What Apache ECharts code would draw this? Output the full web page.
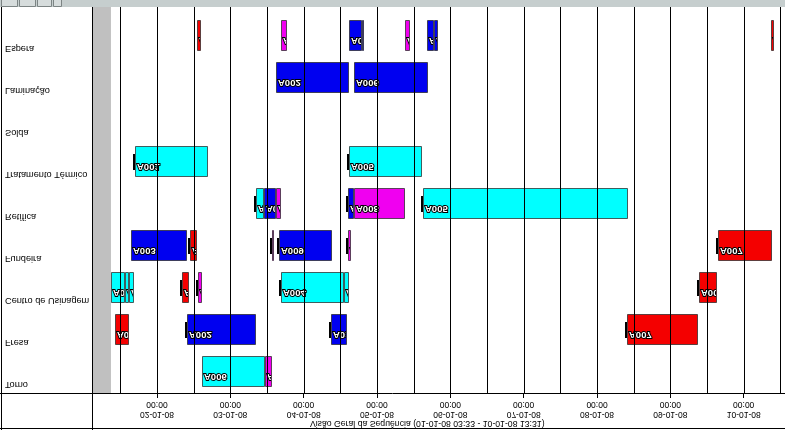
<!DOCTYPE html>
<html><head><meta charset="utf-8">
<script src="https://cdn.jsdelivr.net/npm/echarts@6/dist/echarts.min.js"></script>
<style>html,body{margin:0;padding:0;background:#fff}#chart{width:785px;height:430px;transform:scaleY(-1);}</style>
</head><body><div id="chart"></div>
<script>
const categories = ['Espera','Laminação','Solda','Tratamento Térmico','Retífica','Fundeira','Centro de Usinagem','Fresa','Torno'];
const axisStart = '2008-01-01 02:44';
const axisEnd = '2008-01-10 13:31';
const blockedEnd = '2008-01-01 08:56';
const dayTicks = ['2008-01-02 00:00','2008-01-03 00:00','2008-01-04 00:00','2008-01-05 00:00','2008-01-06 00:00','2008-01-07 00:00','2008-01-08 00:00','2008-01-09 00:00','2008-01-10 00:00'];
const gridTimes = ['2008-01-01 12:00','2008-01-02 00:00','2008-01-02 12:00','2008-01-03 00:00','2008-01-03 12:00','2008-01-04 00:00','2008-01-04 12:00','2008-01-05 00:00','2008-01-05 12:00','2008-01-06 00:00','2008-01-06 12:00','2008-01-07 00:00','2008-01-07 12:00','2008-01-08 00:00','2008-01-08 12:00','2008-01-09 00:00','2008-01-09 12:00','2008-01-10 00:00','2008-01-10 12:00'];
const titleText = 'Visão Geral da Sequência (01-01-08 03:33 - 10-01-08 13:31)';
// [machine index, start, end, kind, order, start marker]
const tasks = [
 [0,'2008-01-02 13:05','2008-01-02 14:24','r','A007',0],
 [0,'2008-01-03 16:35','2008-01-03 18:33','m','A004',0],
 [0,'2008-01-04 14:50','2008-01-04 19:05','b','A010',0],
 [0,'2008-01-04 19:05','2008-01-04 19:45','b','A010',0],
 [0,'2008-01-05 09:10','2008-01-05 10:48','m','A008',0],
 [0,'2008-01-05 16:22','2008-01-05 18:39','b','A011',0],
 [0,'2008-01-05 18:39','2008-01-05 19:58','b','A011',0],
 [0,'2008-01-10 08:56','2008-01-10 09:55','r','A007',0],
 [1,'2008-01-03 14:57','2008-01-04 14:50','b','A002',0],
 [1,'2008-01-04 16:28','2008-01-05 16:41','b','A006',0],
 [3,'2008-01-01 16:48','2008-01-02 16:41','c','A001',1],
 [3,'2008-01-04 14:50','2008-01-05 14:43','c','A005',1],
 [4,'2008-01-03 08:24','2008-01-03 11:01','c','A011',1],
 [4,'2008-01-03 11:01','2008-01-03 14:57','b','A010',0],
 [4,'2008-01-03 14:57','2008-01-03 16:35','m','A012',0],
 [4,'2008-01-04 14:31','2008-01-04 16:28','b','A003',1],
 [4,'2008-01-04 16:28','2008-01-05 09:10','m','A008',0],
 [4,'2008-01-05 15:03','2008-01-08 10:09','c','A005',1],
 [5,'2008-01-01 15:29','2008-01-02 09:49','b','A003',0],
 [5,'2008-01-02 10:48','2008-01-02 13:05','r','A007',1],
 [5,'2008-01-03 13:38','2008-01-03 14:17','m','A004',1],
 [5,'2008-01-03 15:56','2008-01-04 09:16','b','A009',1],
 [5,'2008-01-04 14:31','2008-01-04 15:29','m','A008',1],
 [5,'2008-01-09 15:35','2008-01-10 09:16','r','A007',1],
 [6,'2008-01-01 08:57','2008-01-01 13:32','c','A011',0],
 [6,'2008-01-01 13:32','2008-01-01 14:50','c','A011',0],
 [6,'2008-01-01 14:50','2008-01-01 16:28','c','A011',0],
 [6,'2008-01-02 08:11','2008-01-02 10:28','r','A007',1],
 [6,'2008-01-02 13:25','2008-01-02 14:44','m','A004',1],
 [6,'2008-01-03 16:35','2008-01-04 13:12','c','A004',1],
 [6,'2008-01-04 13:12','2008-01-04 14:50','c','A005',0],
 [6,'2008-01-09 09:23','2008-01-09 15:16','r','A007',1],
 [7,'2008-01-01 10:15','2008-01-01 14:50','r','A007',0],
 [7,'2008-01-02 09:49','2008-01-03 08:24','b','A002',1],
 [7,'2008-01-04 08:57','2008-01-04 14:11','b','A010',1],
 [7,'2008-01-08 09:49','2008-01-09 09:03','r','A007',1],
 [8,'2008-01-02 14:44','2008-01-03 11:21','c','A006',0],
 [8,'2008-01-03 11:21','2008-01-03 13:38','m','A004',0]
];

const palette = {b:'#0000f0', c:'#00ffff', r:'#f40000', m:'#f000f0'};
const FONT = '"Liberation Sans", Arial, sans-serif';
function t(s){const [d,tm]=s.split(' ');const [Y,M,D]=d.split('-').map(Number);const [h,mi]=tm.split(':').map(Number);return Date.UTC(Y,M-1,D,h,mi);}
function p2(n){return String(n).padStart(2,'0');}
function fmt(v){const d=new Date(v);return p2(d.getUTCDate())+'-'+p2(d.getUTCMonth()+1)+'-'+p2(d.getUTCFullYear()%100)+'\n'+p2(d.getUTCHours())+':'+p2(d.getUTCMinutes());}

const chart = echarts.init(document.getElementById('chart'), null, {renderer:'canvas'});
const dayVals = dayTicks.map(t);
const option = {
  animation:false,
  backgroundColor:'#fff',
  grid:{left:92, right:0, top:37, height:378},
  xAxis:{
    type:'value', position:'top', min:t(axisStart), max:t(axisEnd),
    axisLine:{show:false},
    axisTick:{show:true, customValues:dayVals, length:5, lineStyle:{color:'#000'}},
    axisLabel:{customValues:dayVals, formatter:fmt, fontSize:8.5, lineHeight:10, margin:6, color:'#000', fontFamily:FONT},
    splitLine:{show:false}
  },
  yAxis:{
    type:'category', data:categories,
    axisLine:{show:false}, axisTick:{show:false}, splitLine:{show:false},
    axisLabel:{align:'left', margin:87, fontSize:9.2, lineHeight:11, verticalAlign:'bottom', padding:[0,0,7,0], color:'#000', fontFamily:FONT}
  },
  graphic:[
    {type:'rect', shape:{x:0,y:423,width:785,height:7}, style:{fill:'#c6cece'}, z:10},
    {type:'rect', shape:{x:1.5,y:423.5,width:16,height:7}, style:{fill:'#d6dcdc',stroke:'#7c8484'}, z:11},
    {type:'rect', shape:{x:19.5,y:423.5,width:16,height:7}, style:{fill:'#d6dcdc',stroke:'#7c8484'}, z:11},
    {type:'rect', shape:{x:37.5,y:423.5,width:14,height:7}, style:{fill:'#d6dcdc',stroke:'#7c8484'}, z:11},
    {type:'rect', shape:{x:53.5,y:423.5,width:8,height:7}, style:{fill:'#d6dcdc',stroke:'#7c8484'}, z:11},
    {type:'line', shape:{x1:0,y1:36.5,x2:785,y2:36.5}, style:{stroke:'#000',lineWidth:1}, z:10},
    {type:'line', shape:{x1:0,y1:1.5,x2:785,y2:1.5}, style:{stroke:'#000',lineWidth:1}, z:10},
    {type:'line', shape:{x1:92.5,y1:0,x2:92.5,y2:423}, style:{stroke:'#000',lineWidth:1}, z:10},
    {type:'line', shape:{x1:1.5,y1:0,x2:1.5,y2:423}, style:{stroke:'#000',lineWidth:1}, z:10},
    {type:'text', x:310, y:7, style:{text:titleText, font:'8.7px '+FONT, fill:'#000', verticalAlign:'middle', align:'left'}, z:10}
  ],
  series:[
    {
      type:'custom', z:1, silent:true, clip:false,
      data:[[t(axisStart), t(blockedEnd)]],
      encode:{x:[0,1]},
      renderItem(params, api){
        const cs = params.coordSys;
        const a = api.coord([api.value(0), 0])[0], b = api.coord([api.value(1), 0])[0];
        return {type:'rect', shape:{x:a+1, y:cs.y, width:b-a-1, height:cs.height+8}, style:{fill:'#c0c0c0'}};
      }
    },
    {
      type:'custom', z:2, silent:true, clip:false,
      data: tasks.map(r=>[r[0], t(r[1]), t(r[2])]),
      encode:{x:[1,2], y:0},
      renderItem(params, api){
        const d = tasks[params.dataIndex];
        const row = api.value(0);
        const a = api.coord([api.value(1), row]), b = api.coord([api.value(2), row]);
        const x0 = Math.round(a[0]), x1 = Math.round(b[0]);
        const h = 31, y = Math.round(a[1] - h/2);
        const w = Math.max(x1 - x0, 2);
        const children = [
          {type:'rect', shape:{x:x0+0.5, y:y+0.5, width:w-1, height:h-1}, style:{fill:palette[d[3]], stroke:'rgba(40,40,40,0.75)', lineWidth:1}},
          {type:'text', x:x0+2, y:y+5,
            clipPath:{type:'rect', shape:{x:-1, y:-5, width:Math.max(w-2,0), height:h}},
            style:{text:d[4], fill:'#fff', stroke:'#000', lineWidth:2, font:'bold 9.5px '+FONT, verticalAlign:'top', align:'left'}}
        ];
        if (d[5]) children.push({type:'rect', shape:{x:x0-2, y:y+7, width:2, height:16}, style:{fill:'#000'}});
        return {type:'group', children};
      }
    },
    {
      type:'custom', z:3, silent:true, clip:false,
      data: gridTimes.map(s=>[t(s)]),
      encode:{x:0},
      renderItem(params, api){
        const cs = params.coordSys;
        const x = Math.round(api.coord([api.value(0), 0])[0]) + 0.5;
        return {type:'line', shape:{x1:x, y1:cs.y, x2:x, y2:cs.y+cs.height+8}, style:{stroke:'#000', lineWidth:1}};
      }
    }
  ]
};
chart.setOption(option);
</script></body></html>
